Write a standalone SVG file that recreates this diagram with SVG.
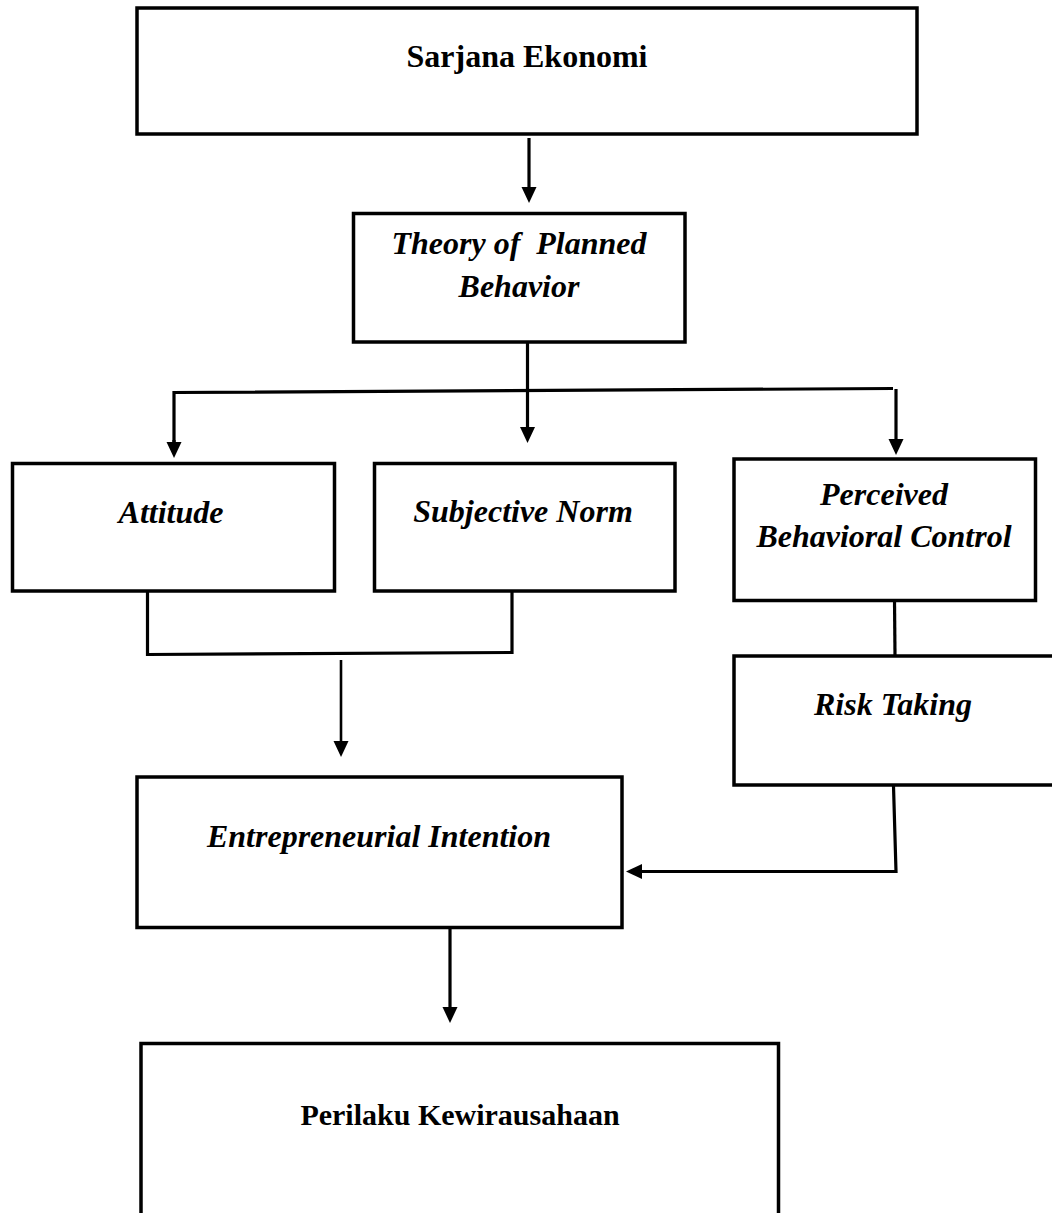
<svg xmlns="http://www.w3.org/2000/svg" width="1052" height="1213" viewBox="0 0 1052 1213">
<style>
.box{fill:#fff;stroke:#000;stroke-width:3.5}
.ln{fill:none;stroke:#000;stroke-width:3.2}
.thin{fill:none;stroke:#000;stroke-width:2.6}
.t{font-family:"Liberation Serif","Times New Roman",serif;font-size:32px;font-weight:bold;text-anchor:middle;fill:#000}
.i{font-style:italic}
</style>
<defs>
<marker id="ah" markerUnits="userSpaceOnUse" markerWidth="17" markerHeight="16" refX="0" refY="8" orient="auto">
<path d="M0,0.5 L16,8 L0,15.5 z" fill="#000"/>
</marker>
</defs>
<rect width="1052" height="1213" fill="#fff"/>
<g id="connectors">
<line class="ln" x1="529" y1="138" x2="529" y2="187" marker-end="url(#ah)"/>
<line class="ln" x1="527.5" y1="343" x2="527.5" y2="427" marker-end="url(#ah)"/>
<polyline class="ln" points="174,442 174,392.5 893,388.5"/>
<line class="ln" x1="174" y1="440" x2="174" y2="442" marker-end="url(#ah)"/>
<line class="ln" x1="896" y1="389" x2="896" y2="439" marker-end="url(#ah)"/>
<polyline class="ln" points="147.5,592 147.5,654.5 512,652.5 512,591"/>
<line class="thin" x1="341" y1="660" x2="341" y2="741" marker-end="url(#ah)"/>
<line class="ln" x1="894.5" y1="600" x2="895" y2="656"/>
<polyline class="ln" points="893.5,786 896,871.5 642,871.5"/>
<line class="ln" x1="644" y1="871.5" x2="642" y2="871.5" marker-end="url(#ah)"/>
<line class="ln" x1="450" y1="928" x2="450" y2="1007" marker-end="url(#ah)"/>
</g>
<g id="sarjana">
<rect class="box" x="137" y="8" width="780" height="126"/>
<text class="t" x="527" y="67">Sarjana Ekonomi</text>
</g>
<g id="tpb">
<rect class="box" x="353.5" y="213.5" width="331.5" height="128.5"/>
<text class="t i" x="519" y="254" xml:space="preserve">Theory of  Planned</text>
<text class="t i" x="519" y="297">Behavior</text>
</g>
<g id="attitude">
<rect class="box" x="12.5" y="463.5" width="322" height="127.5"/>
<text class="t i" x="171" y="523">Attitude</text>
</g>
<g id="subjective">
<rect class="box" x="374.5" y="463.5" width="300.5" height="127.5"/>
<text class="t i" x="523" y="522">Subjective Norm</text>
</g>
<g id="pbc">
<rect class="box" x="734" y="459" width="301.5" height="141.5"/>
<text class="t i" x="884" y="505">Perceived</text>
<text class="t i" x="884" y="547">Behavioral Control</text>
</g>
<g id="risk">
<rect class="box" x="734" y="656" width="340" height="129"/>
<text class="t i" x="893" y="715">Risk Taking</text>
</g>
<g id="intention">
<rect class="box" x="137" y="777" width="485" height="150.5"/>
<text class="t i" x="379" y="847">Entrepreneurial Intention</text>
</g>
<g id="perilaku">
<rect class="box" x="141" y="1043.5" width="637.5" height="200"/>
<text class="t" x="460" y="1125" style="font-size:30px">Perilaku Kewirausahaan</text>
</g>
</svg>
